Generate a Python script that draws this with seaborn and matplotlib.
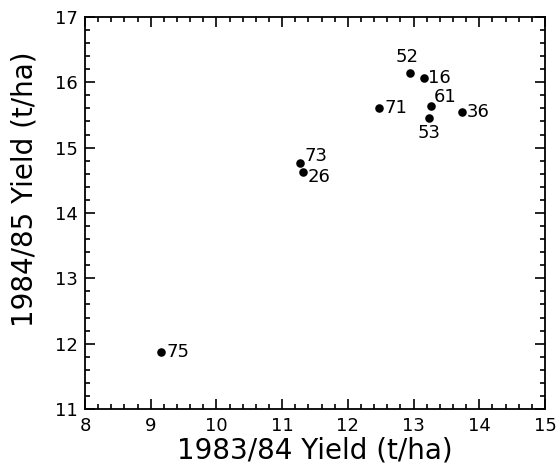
import numpy as np
import matplotlib
matplotlib.use("Agg")
import matplotlib.pyplot as plt
import seaborn as sns
import pandas as pd
from matplotlib.ticker import MultipleLocator

# Yield per entry
entries = ['75', '73', '26', '52', '16', '71', '61', '53', '36']
yield_8384 = [9.16, 11.27, 11.31, 12.94, 13.16, 12.47, 13.26, 13.24, 13.74]
yield_8485 = [11.88, 14.76, 14.63, 16.14, 16.07, 15.60, 15.63, 15.46, 15.55]

# label placement relative to the dot (points)
offsets = {
    '75': (4, 0, 'left', 'center'),
    '73': (3, 5, 'left', 'center'),
    '26': (4, -4, 'left', 'center'),
    '52': (-2, 5, 'center', 'bottom'),
    '16': (3, 0, 'left', 'center'),
    '71': (4, 0, 'left', 'center'),
    '61': (2, 7, 'left', 'center'),
    '53': (0, -5, 'center', 'top'),
    '36': (3, 0, 'left', 'center'),
}

df = pd.DataFrame({'entry': entries, 'x': yield_8384, 'y': yield_8485})

sns.set_style('ticks')
plt.rcParams['font.family'] = ['DejaVu Sans']
plt.rcParams['text.color'] = 'black'
plt.rcParams['axes.labelcolor'] = 'black'

fig = plt.figure(figsize=(5.59, 4.68), dpi=100)
ax = fig.add_axes([0.152, 0.126, 0.823, 0.838])

sns.scatterplot(data=df, x='x', y='y', color='black', s=38,
                edgecolor='black', linewidth=0, ax=ax, legend=False)

for _, r in df.iterrows():
    dx, dy, ha, va = offsets[r['entry']]
    ax.annotate(r['entry'], (r['x'], r['y']), xytext=(dx, dy),
                textcoords='offset points', ha=ha, va=va, fontsize=13)

ax.set_xlim(8, 15)
ax.set_ylim(11, 17)
ax.xaxis.set_major_locator(MultipleLocator(1))
ax.xaxis.set_minor_locator(MultipleLocator(0.2))
ax.yaxis.set_major_locator(MultipleLocator(1))
ax.yaxis.set_minor_locator(MultipleLocator(0.2))
ax.tick_params(which='both', direction='in', top=True, right=True,
               labelsize=13, width=1.2, colors='black')
ax.tick_params(which='major', length=7)
ax.tick_params(which='minor', length=3.5)
ax.tick_params(axis='x', which='major', pad=6)
ax.tick_params(axis='y', which='major', pad=5)
for s in ax.spines.values():
    s.set_linewidth(1.3)
    s.set_color('black')

ax.set_xlabel('1983/84 Yield (t/ha)', fontsize=20, labelpad=1)
ax.set_ylabel('1984/85 Yield (t/ha)', fontsize=20)
ax.yaxis.set_label_coords(-0.1, 0.56)

fig.savefig('out.png', dpi=100)
